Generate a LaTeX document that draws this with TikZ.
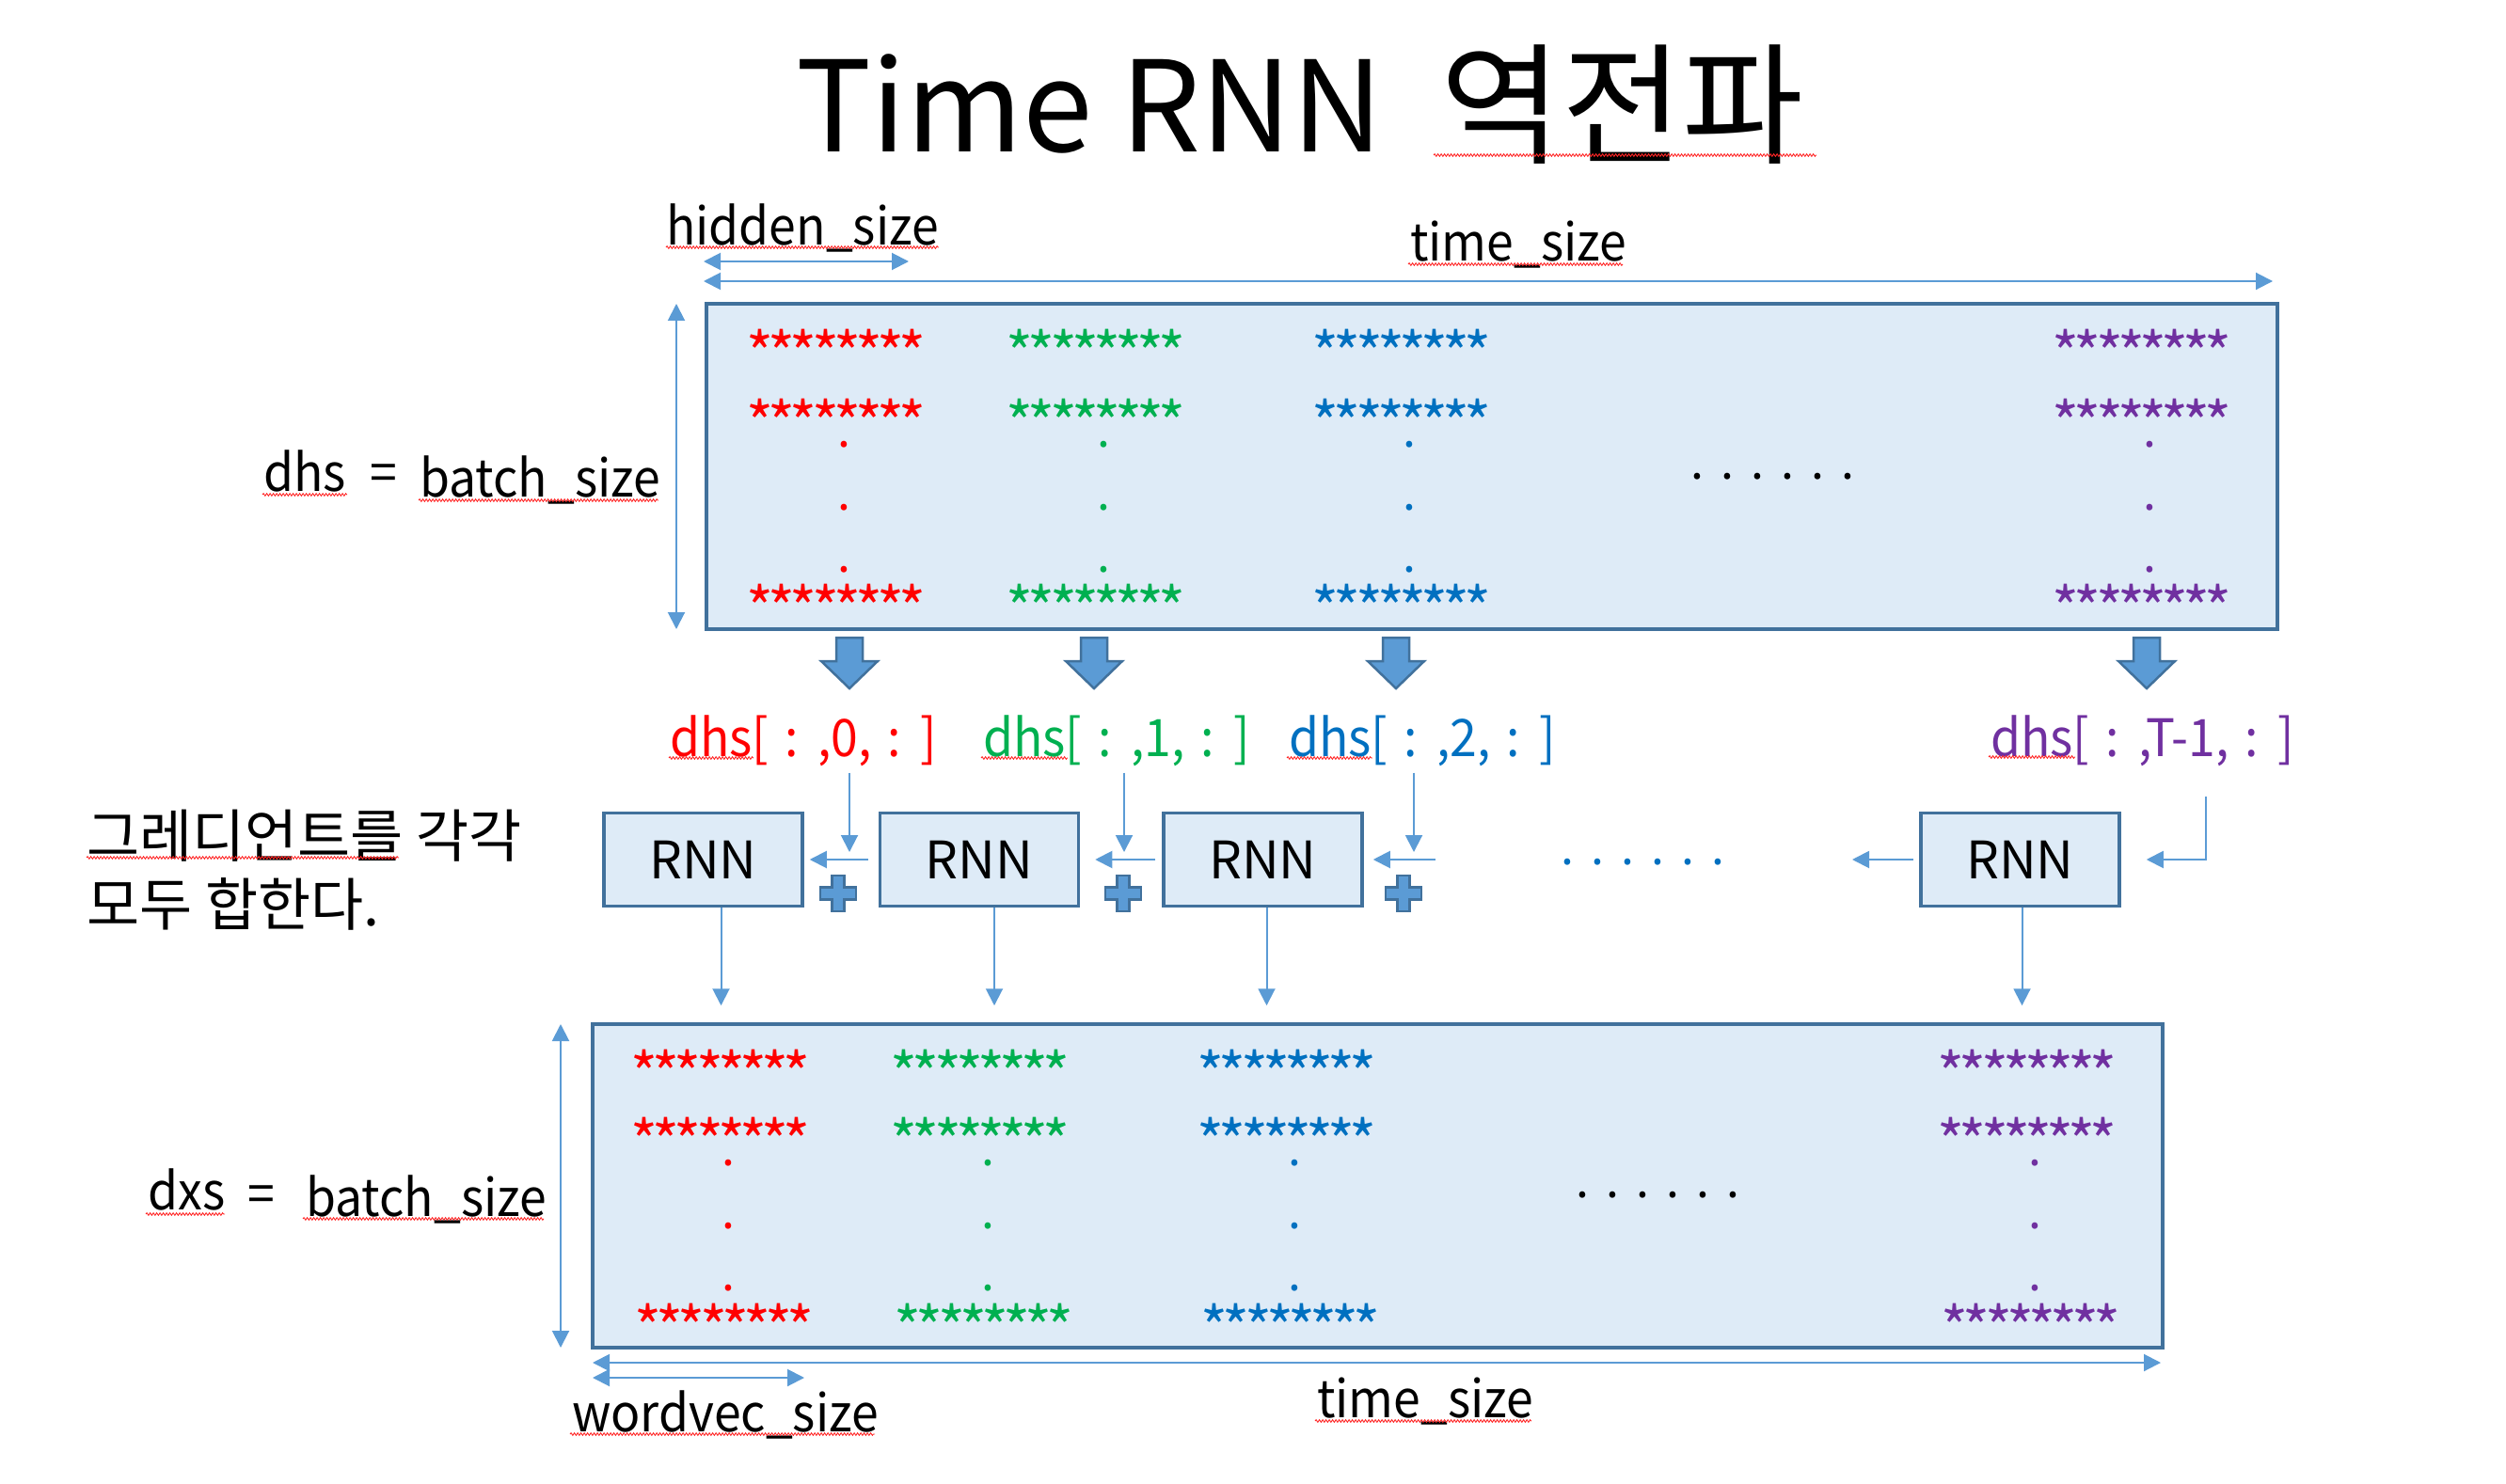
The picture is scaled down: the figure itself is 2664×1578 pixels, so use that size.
\documentclass[tikz,border=0pt]{standalone}
\usepackage{fontspec}
\setmainfont{Noto Sans CJK KR}
\newfontfamily\narrowfont{Noto Sans CJK KR}[FakeStretch=0.94, WordSpace=1.45]
\newfontfamily\starfont{Noto Sans CJK KR}[LetterSpace=-9.5]
\usetikzlibrary{arrows.meta, decorations.pathmorphing}

\definecolor{boxfill}{HTML}{DEEBF7}
\definecolor{boxline}{HTML}{41719C}
\definecolor{linkblue}{HTML}{5B9BD5}
\definecolor{tred}{HTML}{FF0000}
\definecolor{tgreen}{HTML}{00B050}
\definecolor{tblue}{HTML}{0070C0}
\definecolor{tpurple}{HTML}{7030A0}

\newcommand{\titlesize}{\fontsize{134}{160}\selectfont}
\newcommand{\korsize}{\fontsize{61}{76}\selectfont}
\newcommand{\lblsize}{\narrowfont\fontsize{55}{66}\selectfont}
\newcommand{\rnnsize}{\fontsize{55}{66}\selectfont}
\newcommand{\starsize}{\starfont\fontsize{62}{70}\selectfont}
\newcommand{\dotsize}{\fontsize{50}{60}\selectfont}

\begin{document}
\begin{tikzpicture}[x=1pt, y=-1pt,
  every node/.style={inner sep=0pt, font=\lblsize},
  lbl/.style={anchor=base west},
  mat/.style={draw=boxline, fill=boxfill, line width=3.5pt},
  rnn/.style={draw=boxline, fill=boxfill, line width=3.5pt, minimum width=211pt, minimum height=99pt, font=\rnnsize},
  link/.style={draw=linkblue, line width=2pt, -{Triangle[length=18pt, width=18pt]}},
  dim/.style={draw=linkblue, line width=2pt, {Triangle[length=18pt, width=18pt]}-{Triangle[length=18pt, width=18pt]}},
  block/.style={fill=linkblue, draw=boxline, line width=2.5pt},
  stars/.style={anchor=base, font=\starsize},
  dotch/.style={anchor=base, font=\dotsize},
  spell/.style={draw=red!85, line width=0.9pt, decorate, decoration={snake, amplitude=1.3pt, segment length=3.5pt}}]
  \useasboundingbox (0,0) rectangle (2664,1578);

  % title
  \node[lbl, font=\titlesize] (title) at (846,162) {Time RNN};
  \node[lbl, font=\fontsize{140}{160}\selectfont] (titleK) at (1531,164) {역전파};

  % upper matrix and its sizes
  \node[mat, minimum width=1670pt, minimum height=346pt] (dhsbox) at (1586,496) {};
  \node[lbl] (hidA) at (708,261) {hidden\_size};
  \node[lbl] (timeA) at (1499,278) {time\_size};
  \node[lbl] (dhsA) at (280,522) {dhs};
  \node[lbl] (eqA) at (393,522) {=};
  \node[lbl] (batchA) at (446,528) {batch\_size};
  \draw[dim] (748,278) -- (966,278);
  \draw[dim] (748,299) -- (2416,299);
  \draw[dim] (719,323) -- (719,669);
  \foreach \cx/\col/\k in {889/tred/0, 1165/tgreen/1, 1490/tblue/2, 2277/tpurple/3} {
    \foreach \ry/\r in {360/a, 433/b, 630/c}
      \node[stars, text=\col] (hs\k\r) at (\cx,\ry+40) {********};
    \foreach \dy/\r in {471/a, 538/b, 604/c}
      \node[dotch, text=\col] (hd\k\r) at (\cx+8,\dy+4) {.};
  }
  \foreach \i in {0,...,5}
    \node[dotch] (he\i) at (1804+32*\i,509) {.};

  % block arrows: slicing per time step
  \foreach \bx in {903,1163,1484,2282}
    \filldraw[block] (\bx-14,678) -- (\bx+14,678) -- (\bx+14,703) -- (\bx+30,703)
      -- (\bx,732) -- (\bx-30,703) -- (\bx-14,703) -- cycle;
  \node[lbl, text=tred] (d0) at (712,804) {dhs[ : ,0, : ]};
  \node[lbl, text=tgreen] (d1) at (1045,804) {dhs[ : ,1, : ]};
  \node[lbl, text=tblue] (d2) at (1370,804) {dhs[ : ,2, : ]};
  \node[lbl, text=tpurple] (dT) at (2116,804) {dhs[ : ,T-1, : ]};

  % RNN chain, backward direction
  \node[rnn] (r0) at (747.5,914) {RNN};
  \node[rnn] (r1) at (1041,914) {RNN};
  \node[rnn] (r2) at (1342.5,914) {RNN};
  \node[rnn] (rT) at (2147.5,914) {RNN};
  \node[lbl, font=\korsize] (kor1) at (92,911) {그레디언트를 각각};
  \node[lbl, font=\korsize] (kor2) at (92,984) {모두 합한다.};
  \coordinate (j0) at (903,906);
  \coordinate (j1) at (1195,906);
  \coordinate (j2) at (1503,906);
  \coordinate (in2) at (1526,914);
  \coordinate (outT) at (1969,914);
  \coordinate (eT) at (2345,847);
  \draw[link, shorten <=7pt] (j0 |- d0.south) -- (j0);
  \draw[link, shorten <=7pt] (j1 |- d1.south) -- (j1);
  \draw[link, shorten <=7pt] (j2 |- d2.south) -- (j2);
  \draw[link, shorten <=11pt, shorten >=6pt] (r1.west) -- (r0.east);
  \draw[link, shorten <=7pt, shorten >=16pt] (r2.west) -- (r1.east);
  \draw[link, shorten >=10pt] (in2) -- (r2.east);
  \draw[link, shorten <=6pt] (rT.west) -- (outT);
  \draw[link, shorten >=27pt] (eT) |- (rT.east);
  \foreach \i in {0,...,5}
    \node[dotch, text=tblue] (me\i) at (1666+32*\i,919) {.};
  % plus signs
  \foreach \px in {891,1194,1492}
    \filldraw[block] (\px-6.5,931) -- (\px+6.5,931) -- (\px+6.5,943.5) -- (\px+19,943.5)
      -- (\px+19,956.5) -- (\px+6.5,956.5) -- (\px+6.5,969) -- (\px-6.5,969)
      -- (\px-6.5,956.5) -- (\px-19,956.5) -- (\px-19,943.5) -- (\px-6.5,943.5) -- cycle;
  \foreach \n/\dx in {r0/19, r1/16, r2/4, rT/2}
    \draw[link] ([xshift=\dx pt]\n.south) -- ++(0,104);

  % lower matrix dxs and its sizes
  \node[mat, minimum width=1669pt, minimum height=344pt] (dxsbox) at (1464.5,1261) {};
  \node[lbl] (dxsA) at (157,1286) {dxs};
  \node[lbl] (eqB) at (263,1289) {=};
  \node[lbl] (batchB) at (325,1293) {batch\_size};
  \node[lbl] (wordB) at (608,1522) {wordvec\_size};
  \node[lbl] (timeB) at (1400,1507) {time\_size};
  \draw[dim] (596,1089) -- (596,1433);
  \draw[dim] (630,1449) -- (2297,1449);
  \draw[dim] (630,1465) -- (855,1465);
  \foreach \cx/\col/\k in {766/tred/0, 1042/tgreen/1, 1368/tblue/2, 2155/tpurple/3} {
    \foreach \ry/\sx/\r in {1125/0/a, 1197/0/b, 1395/4/c}
      \node[stars, text=\col] (xs\k\r) at (\cx+\sx,\ry+40) {********};
    \foreach \dy/\r in {1235/a, 1302/b, 1368/c}
      \node[dotch, text=\col] (xd\k\r) at (\cx+8,\dy+4) {.};
  }
  \foreach \i in {0,...,5}
    \node[dotch] (xe\i) at (1682+32*\i,1273) {.};

  % spell-check marks
  \foreach \xa/\xb/\uy in {1524/1931/165, 708/998/263, 1497/1725/281, 279/369/526,
      445/700/532, 711/801/806, 1043/1135/806, 1368/1459/806, 2114/2206/805,
      92/424/912, 155/239/1291, 322/578/1296, 606/930/1525, 1398/1628/1511}
    \draw[spell] (\xa,\uy) -- (\xb,\uy);
\end{tikzpicture}
\end{document}
